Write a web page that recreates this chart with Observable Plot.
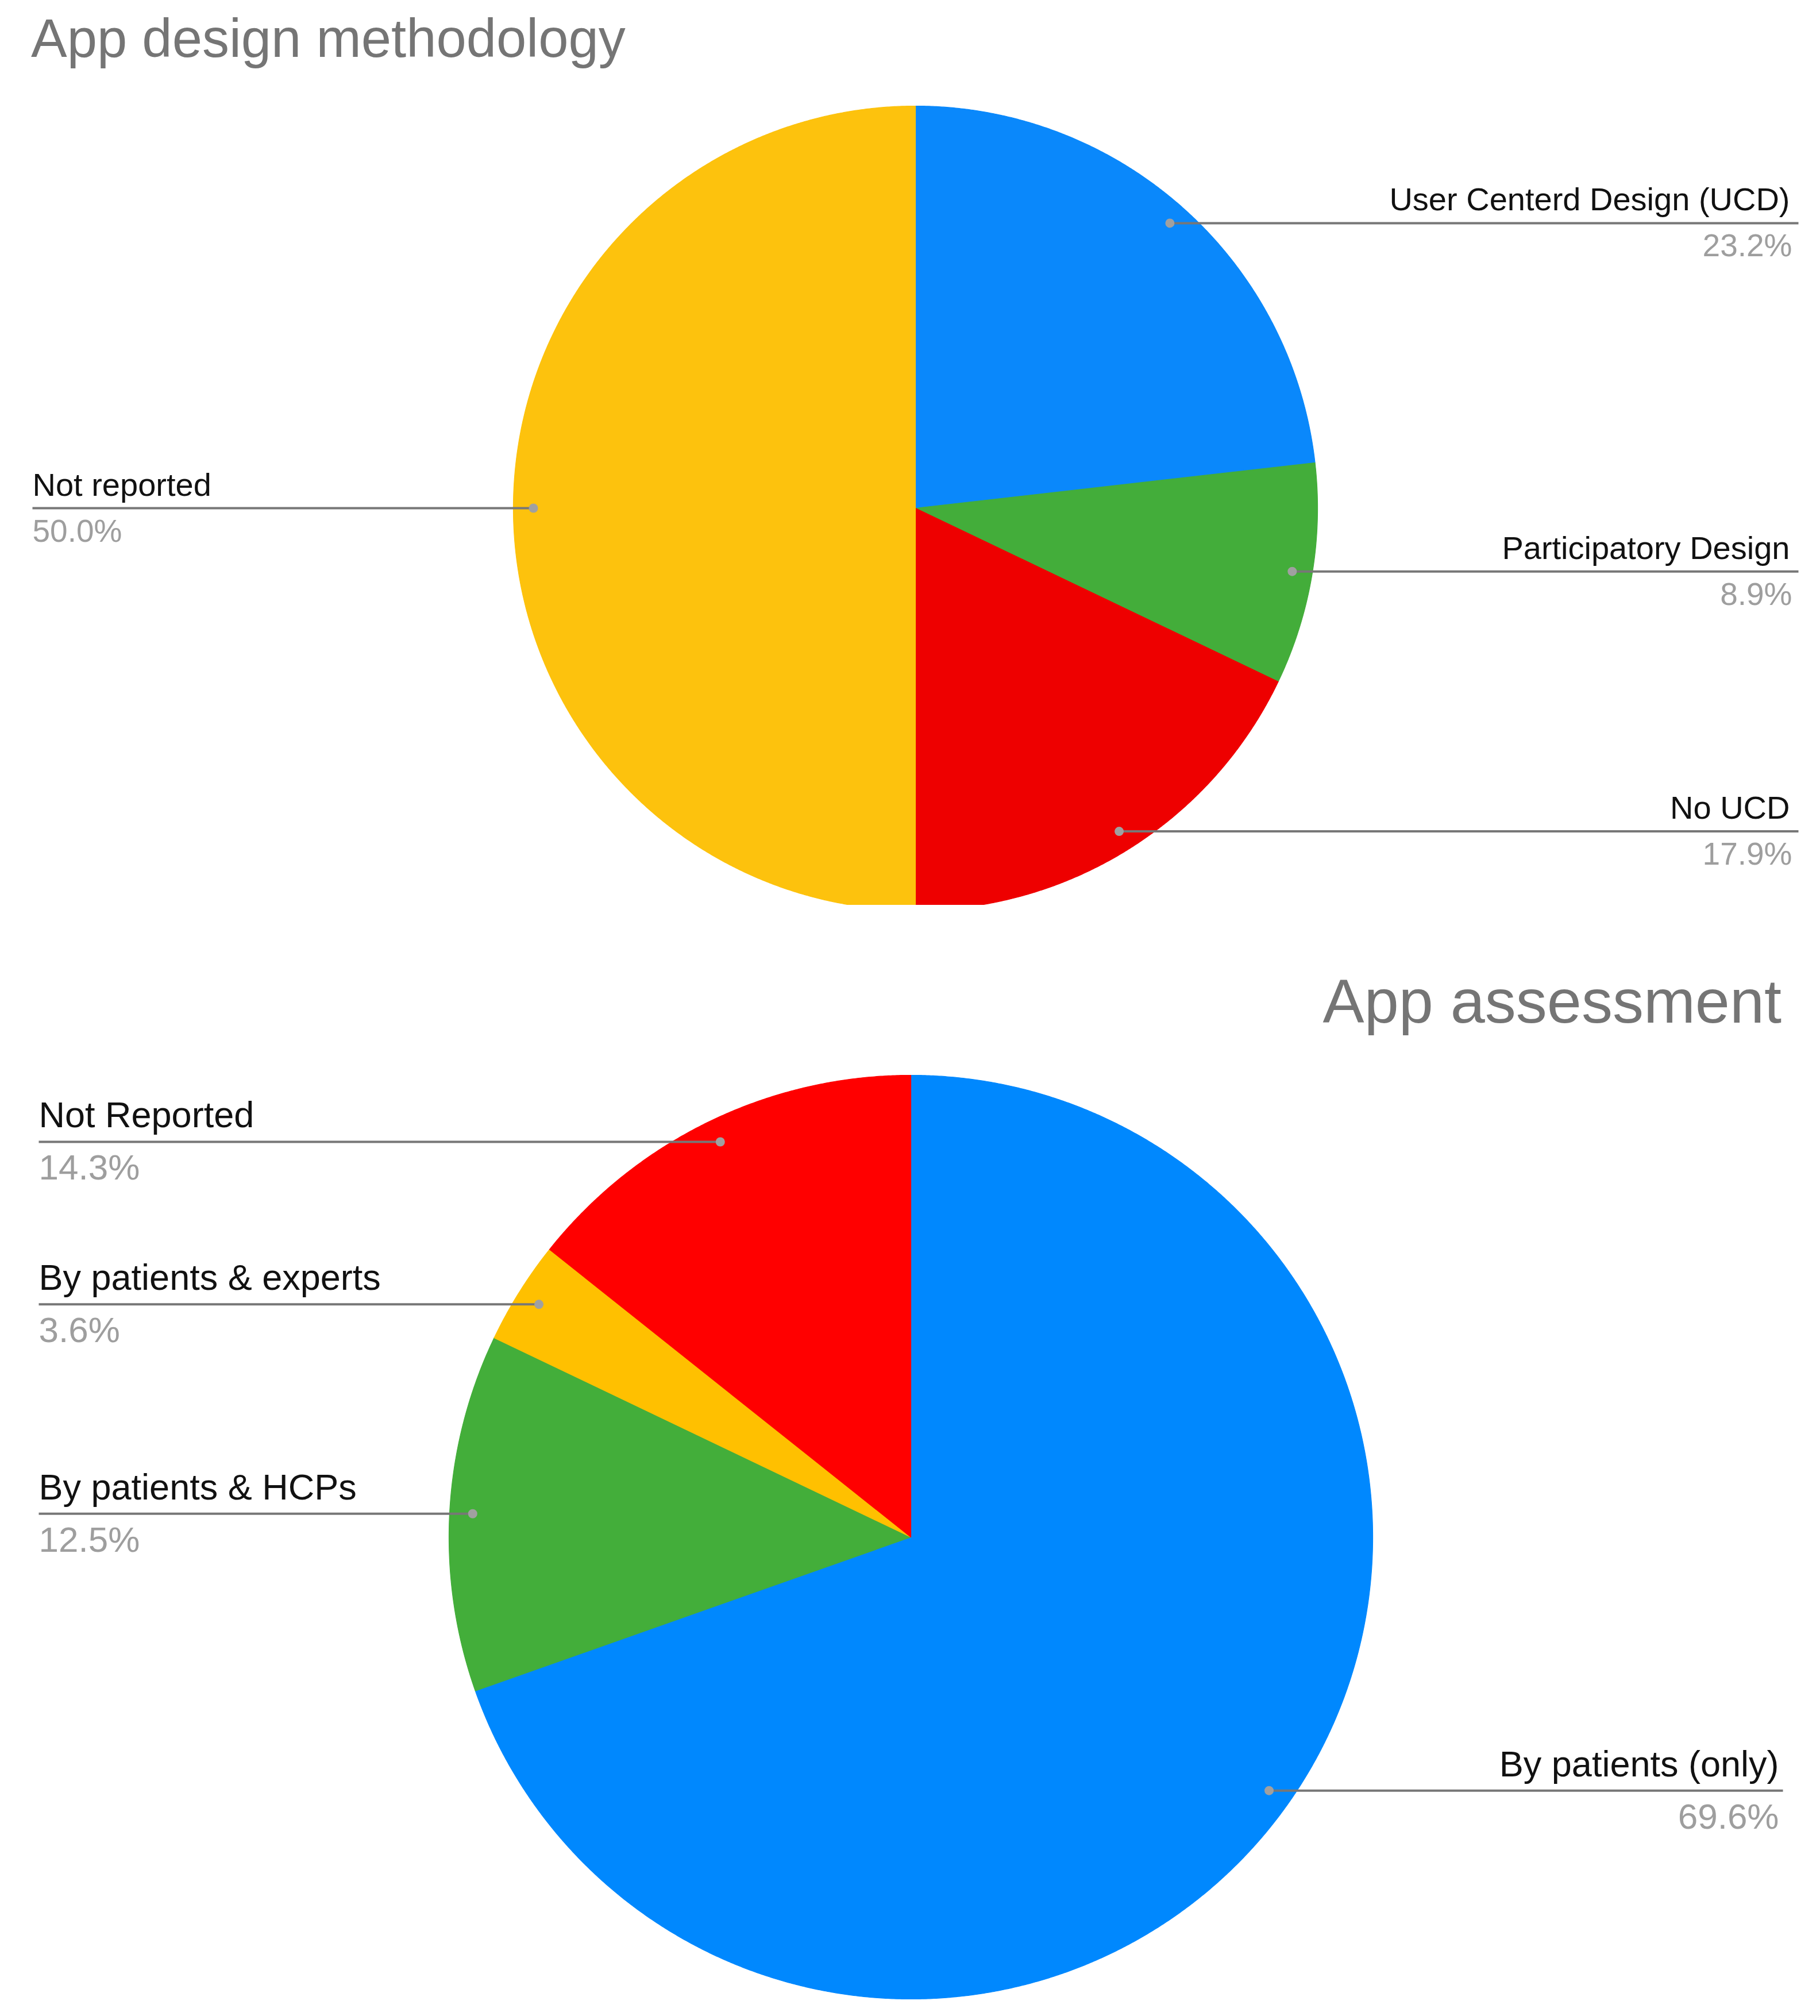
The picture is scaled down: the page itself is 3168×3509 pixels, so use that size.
<!DOCTYPE html>
<html>
<head>
<meta charset="utf-8">
<script src="https://cdn.jsdelivr.net/npm/d3@7"></script>
<script src="https://cdn.jsdelivr.net/npm/@observablehq/plot@0.6"></script>
<style>
  html, body { margin: 0; padding: 0; background: #ffffff; }
  #page { position: relative; width: 3168px; height: 3509px; overflow: hidden; background: #ffffff;
          font-family: "Liberation Sans", Arial, Helvetica, sans-serif; }
  .title { position: absolute; color: #757575; white-space: nowrap; line-height: 1; font-weight: normal; }
  #t1 { left: 54px; top: 20px; font-size: 94px; }
  #t2 { right: 67px; top: 1689px; font-size: 108px; }
  #c1 { position: absolute; left: 0; top: 140px; width: 3168px; height: 1435px; overflow: hidden; }
  #c2 { position: absolute; left: 0; top: 1807px; width: 3168px; height: 1702px; overflow: hidden; }
</style>
</head>
<body>
<div id="page">
  <div id="t1" class="title">App design methodology</div>
  <div id="c1"></div>
  <div id="t2" class="title">App assessment</div>
  <div id="c2"></div>
</div>
<script>
// ---------- data ----------
const designCategories = ["User Centerd Design (UCD)", "Participatory Design", "No UCD", "Not reported"];
const designValues = [23.2, 8.9, 17.9, 50.0];
const designColors = ["#0a88fb", "#43ad3a", "#ee0000", "#fdc20d"];

const assessCategories = ["By patients (only)", "By patients & HCPs", "By patients & experts", "Not Reported"];
const assessValues = [69.6, 12.5, 3.6, 14.3];
const assessColors = ["#0088fe", "#43ae3a", "#ffc000", "#ff0000"];

// ---------- helpers ----------
const W = 3168;
const FONT = "Liberation Sans, Arial, Helvetica, sans-serif";
const pctFormat = v => d3.format(".1f")(v) + "%";

function pieChart(cfg) {
  const {cats, vals, colors, top, height, cx, cy, R, leftX, rightLineX, rightTextX, rightPctX,
         labelSize, pctSize, labelDy, pctDy} = cfg;
  const arcs = d3.pie().sort(null).value(d => d)(vals);
  const slices = [];
  const labels = [];
  arcs.forEach((a, i) => {
    const label = cats[i];
    const a0 = a.startAngle, a1 = a.endAngle;
    const n = Math.max(2, Math.ceil((a1 - a0) / (Math.PI / 720)));
    slices.push({label, x: cx, y: cy});
    for (let k = 0; k <= n; k++) {
      const t = a0 + (a1 - a0) * k / n;
      slices.push({label, x: cx + R * Math.sin(t), y: cy - R * Math.cos(t)});
    }
    const mid = (a0 + a1) / 2;
    const side = Math.sin(mid) >= 0 ? "right" : "left";
    const x = cx + 0.95 * R * Math.sin(mid);
    const y = cy - 0.95 * R * Math.cos(mid);
    labels.push({
      label, value: vals[i], pct: pctFormat(vals[i]), side, x, y,
      lineX: side === "right" ? rightLineX : leftX,
      textX: side === "right" ? rightTextX : leftX,
      pctX: side === "right" ? rightPctX : leftX
    });
  });
  const right = d => d.side === "right";
  const left = d => d.side === "left";
  return Plot.plot({
    width: W,
    height,
    margin: 0,
    style: {background: "#ffffff", overflow: "hidden"},
    x: {domain: [0, W], range: [0, W], axis: null},
    y: {domain: [top, top + height], range: [0, height], axis: null},
    color: {domain: cats, range: colors},
    marks: [
      Plot.line(slices, {x: "x", y: "y", z: "label", fill: "label", stroke: "label", strokeWidth: 1.2,
                         curve: "linear-closed", clip: true}),
      Plot.link(labels, {x1: "lineX", y1: "y", x2: "x", y2: "y", stroke: "#777777", strokeWidth: 4}),
      Plot.dot(labels, {x: "x", y: "y", r: 8, fill: "#a0a0a0"}),
      Plot.text(labels, {filter: right, x: "textX", y: d => d.y + labelDy, text: "label", textAnchor: "end",
                         lineAnchor: "bottom", fontSize: labelSize, fontFamily: FONT, fill: "#111111"}),
      Plot.text(labels, {filter: left, x: "textX", y: d => d.y + labelDy, text: "label", textAnchor: "start",
                         lineAnchor: "bottom", fontSize: labelSize, fontFamily: FONT, fill: "#111111"}),
      Plot.text(labels, {filter: right, x: "pctX", y: d => d.y + pctDy, text: "pct", textAnchor: "end",
                         lineAnchor: "bottom", fontSize: pctSize, fontFamily: FONT, fill: "#9e9e9e"}),
      Plot.text(labels, {filter: left, x: "pctX", y: d => d.y + pctDy, text: "pct", textAnchor: "start",
                         lineAnchor: "bottom", fontSize: pctSize, fontFamily: FONT, fill: "#9e9e9e"})
    ]
  });
}

document.getElementById("c1").appendChild(pieChart({
  cats: designCategories, vals: designValues, colors: designColors,
  top: 140, height: 1435, cx: 1593, cy: 884, R: 700,
  leftX: 56, rightLineX: 3130, rightTextX: 3115, rightPctX: 3119,
  labelSize: 56, pctSize: 55, labelDy: -22, pctDy: 58
}));

document.getElementById("c2").appendChild(pieChart({
  cats: assessCategories, vals: assessValues, colors: assessColors,
  top: 1807, height: 1702, cx: 1585, cy: 2675, R: 804,
  leftX: 67, rightLineX: 3103, rightTextX: 3096, rightPctX: 3096,
  labelSize: 63, pctSize: 62, labelDy: -25, pctDy: 66
}));
</script>
</body>
</html>
